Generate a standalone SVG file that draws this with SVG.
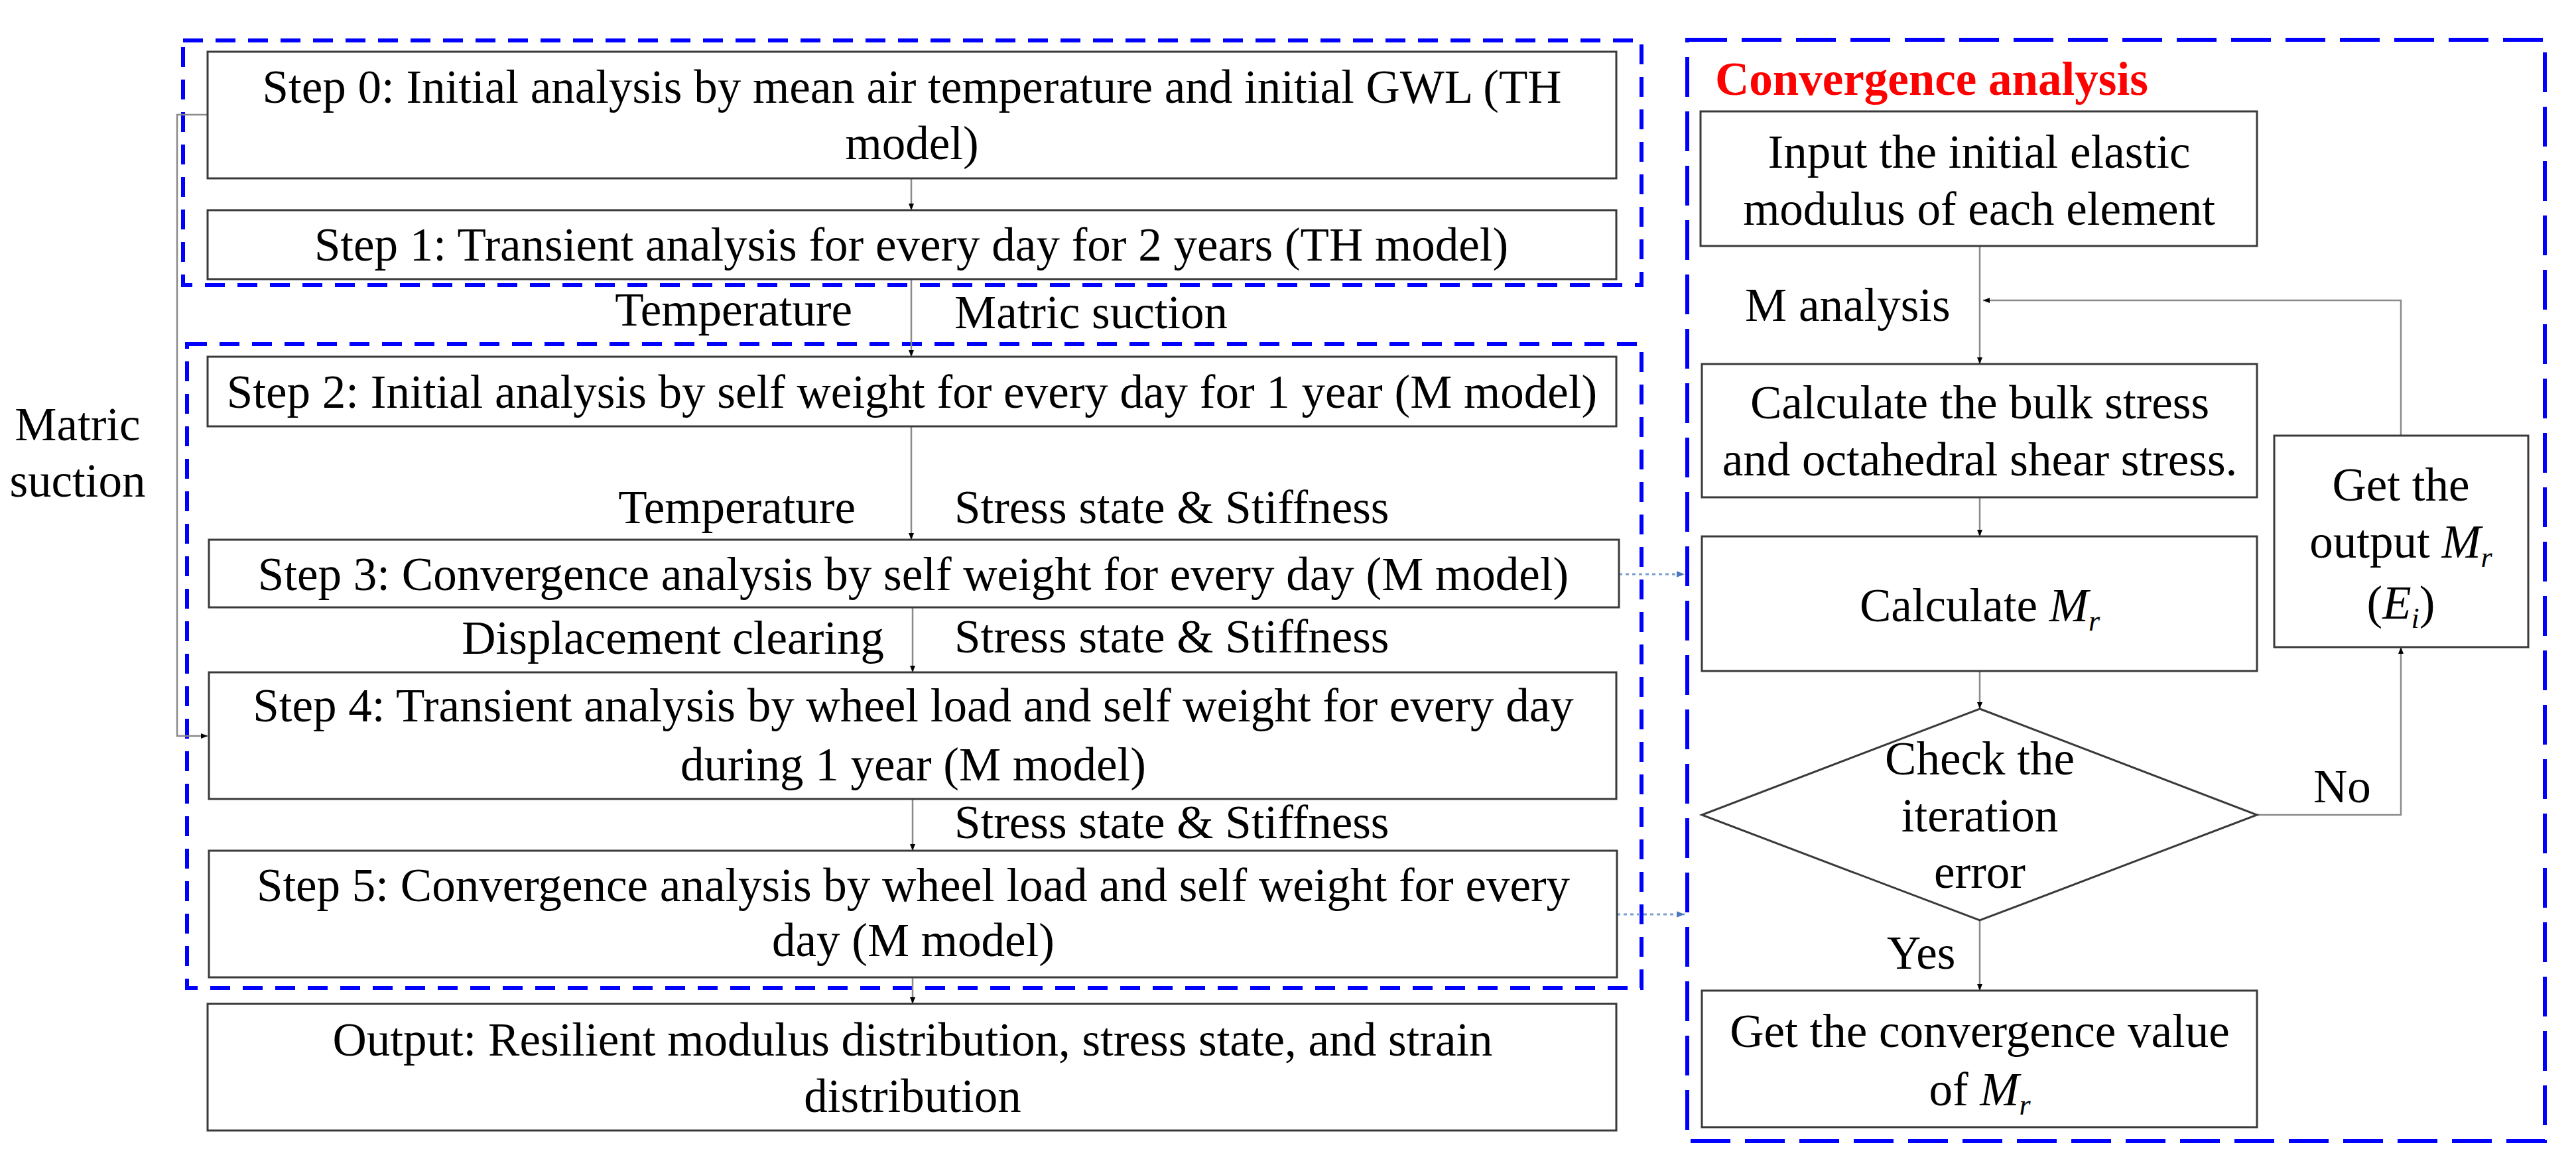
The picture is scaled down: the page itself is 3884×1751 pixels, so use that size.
<svg xmlns="http://www.w3.org/2000/svg" width="3884" height="1751" viewBox="0 0 3884 1751">
<style>
text{font-family:"Liberation Serif","Times New Roman",serif;font-size:71px;fill:#000}
.box{fill:#fff;stroke:#3a3a3a;stroke-width:3}
.grp{fill:none;stroke:#0000ff;stroke-width:6;stroke-dasharray:30 19}
.grp2{fill:none;stroke:#0000ff;stroke-width:6;stroke-dasharray:60 22}
.ln{fill:none;stroke:#8a8a8a;stroke-width:2.5}
.dot{fill:none;stroke:#7a9fd0;stroke-width:3;stroke-dasharray:5 5}
.c{text-anchor:middle}
.e{text-anchor:end}
.it{font-style:italic}
.title{fill:#ff0000;font-weight:bold}
</style>
<defs>
<marker id="ah" viewBox="0 0 10 10" refX="10" refY="5" markerWidth="10" markerHeight="10" markerUnits="userSpaceOnUse" orient="auto"><path d="M0,1 L10,5 L0,9 z" fill="#000"/></marker>
<marker id="ahb" viewBox="0 0 10 10" refX="10" refY="5" markerWidth="12" markerHeight="12" markerUnits="userSpaceOnUse" orient="auto"><path d="M0,1 L10,5 L0,9 z" fill="#4a78c0"/></marker>
</defs>
<rect width="3884" height="1751" fill="#fff"/>

<g id="groups">
<rect class="grp" x="276" y="61" width="2199" height="369"/>
<rect class="grp" x="282" y="519" width="2193" height="971"/>
<rect class="grp2" x="2544" y="60" width="1293" height="1661"/>
</g>

<g id="connectors">
<path class="ln" d="M1374,269 V317" marker-end="url(#ah)"/>
<path class="ln" d="M1374,421 V538" marker-end="url(#ah)"/>
<path class="ln" d="M1374,643 V814" marker-end="url(#ah)"/>
<path class="ln" d="M1376,916 V1014" marker-end="url(#ah)"/>
<path class="ln" d="M1376,1205 V1283" marker-end="url(#ah)"/>
<path class="ln" d="M1376,1474 V1514" marker-end="url(#ah)"/>
<path class="ln" d="M313,173 H267 V1110 H313" marker-end="url(#ah)"/>
<path class="dot" d="M2441,866 H2540" marker-end="url(#ahb)"/>
<path class="dot" d="M2438,1379 H2540" marker-end="url(#ahb)"/>
<path class="ln" d="M2985,371 V549" marker-end="url(#ah)"/>
<path class="ln" d="M2985,750 V809" marker-end="url(#ah)"/>
<path class="ln" d="M2985,1012 V1069" marker-end="url(#ah)"/>
<path class="ln" d="M2985,1388 V1494" marker-end="url(#ah)"/>
<path class="ln" d="M3403,1229 H3620 V976" marker-end="url(#ah)"/>
<path class="ln" d="M3620,657 V453 H2990" marker-end="url(#ah)"/>
</g>

<g id="step0">
<rect class="box" x="313" y="78" width="2124" height="191"/>
<text class="c" x="1375" y="155">Step 0: Initial analysis by mean air temperature and initial GWL (TH</text>
<text class="c" x="1375" y="240">model)</text>
</g>
<g id="step1">
<rect class="box" x="313" y="317" width="2124" height="104"/>
<text class="c" x="1374" y="393">Step 1: Transient analysis for every day for 2 years (TH model)</text>
</g>
<g id="step2">
<rect class="box" x="313" y="538" width="2124" height="105"/>
<text class="c" x="1375" y="615">Step 2: Initial analysis by self weight for every day for 1 year (M model)</text>
</g>
<g id="step3">
<rect class="box" x="315" y="814" width="2126" height="102"/>
<text class="c" x="1377" y="890">Step 3: Convergence analysis by self weight for every day (M model)</text>
</g>
<g id="step4">
<rect class="box" x="315" y="1014" width="2122" height="191"/>
<text class="c" x="1377" y="1088">Step 4: Transient analysis by wheel load and self weight for every day</text>
<text class="c" x="1377" y="1177">during 1 year (M model)</text>
</g>
<g id="step5">
<rect class="box" x="315" y="1283" width="2123" height="191"/>
<text class="c" x="1377" y="1359">Step 5: Convergence analysis by wheel load and self weight for every</text>
<text class="c" x="1377" y="1442">day (M model)</text>
</g>
<g id="output">
<rect class="box" x="313" y="1514" width="2124" height="191"/>
<text class="c" x="1376" y="1592">Output: Resilient modulus distribution, stress state, and strain</text>
<text class="c" x="1376" y="1677">distribution</text>
</g>

<g id="labels">
<text class="e" x="1285" y="491">Temperature</text>
<text x="1439" y="495">Matric suction</text>
<text class="c" x="117" y="664">Matric</text>
<text class="c" x="117" y="749">suction</text>
<text class="e" x="1290" y="789">Temperature</text>
<text x="1439" y="789">Stress state &amp; Stiffness</text>
<text class="e" x="1333" y="986">Displacement clearing</text>
<text x="1439" y="984">Stress state &amp; Stiffness</text>
<text x="1439" y="1264">Stress state &amp; Stiffness</text>
<text class="title" x="2586" y="143">Convergence analysis</text>
<text x="2631" y="484">M analysis</text>
<text x="3488" y="1210">No</text>
<text x="2845" y="1461">Yes</text>
</g>

<g id="input">
<rect class="box" x="2564" y="168" width="839" height="203"/>
<text class="c" x="2984" y="253">Input the initial elastic</text>
<text class="c" x="2984" y="339">modulus of each element</text>
</g>
<g id="bulk">
<rect class="box" x="2566" y="549" width="837" height="201"/>
<text class="c" x="2985" y="631">Calculate the bulk stress</text>
<text class="c" x="2985" y="717">and octahedral shear stress.</text>
</g>
<g id="calcmr">
<rect class="box" x="2566" y="809" width="837" height="203"/>
<text class="c" x="2985" y="937">Calculate <tspan class="it">M</tspan><tspan class="it" font-size="44" dy="14">r</tspan></text>
</g>
<g id="check">
<polygon class="box" points="2985,1069 3403,1229 2985,1388 2566,1229"/>
<text class="c" x="2985" y="1168">Check the</text>
<text class="c" x="2985" y="1254">iteration</text>
<text class="c" x="2985" y="1339">error</text>
</g>
<g id="getconv">
<rect class="box" x="2566" y="1494" width="837" height="206"/>
<text class="c" x="2985" y="1579">Get the convergence value</text>
<text class="c" x="2985" y="1667">of <tspan class="it">M</tspan><tspan class="it" font-size="44" dy="14">r</tspan></text>
</g>
<g id="getoutput">
<rect class="box" x="3429" y="657" width="383" height="319"/>
<text class="c" x="3620" y="755">Get the</text>
<text class="c" x="3620" y="841">output <tspan class="it">M</tspan><tspan class="it" font-size="44" dy="14">r</tspan></text>
<text class="c" x="3620" y="933">(<tspan class="it">E</tspan><tspan class="it" font-size="44" dy="14">i</tspan><tspan dy="-14">)</tspan></text>
</g>
</svg>
